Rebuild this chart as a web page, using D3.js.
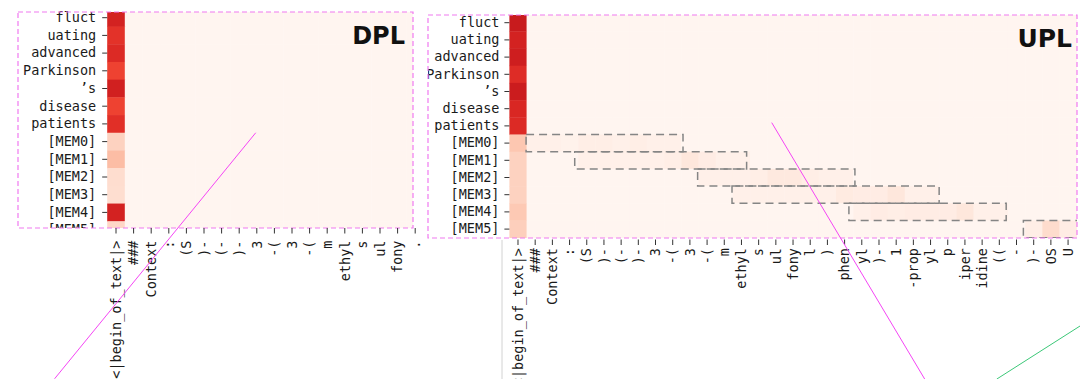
<!DOCTYPE html>
<html><head><meta charset="utf-8">
<script src="https://cdn.jsdelivr.net/npm/d3@7"></script>
<style>body{margin:0;background:#fff;} svg{display:block;}</style>
</head><body>
<script>
// ---------------- data ----------------
const rowLabels = ["fluct","uating","advanced","Parkinson","\u2019s","disease","patients",
  "[MEM0]","[MEM1]","[MEM2]","[MEM3]","[MEM4]","[MEM5]","[MEM6]"];

const dplColLabels = ["<|begin_of_text|>","###","Context",":","(S",")-","(-",")-","3","-(","3","-(",
  "m","ethyl","s","ul","fony","."];

const uplColLabels = ["<|begin_of_text|>","###","Context",":","(S",")-","(-",")-","3","-(","3","-(",
  "m","ethyl","s","ul","fony","l",")","phen","yl",")-","1","-prop","yl","p","iper","idine","((","-",")-","OS","U"];

// attention on first column (<|begin_of_text|>) per row
const dplFirstCol = [0.72,0.66,0.69,0.61,0.73,0.61,0.67,0.17,0.24,0.125,0.12,0.72,0.15];
const uplFirstCol = [0.76,0.72,0.74,0.68,0.75,0.70,0.69,0.21,0.17,0.17,0.17,0.20,0.18,0.18];

// sparse faint attention in UPL: [row, col, value]
const uplTints = [
  [7,1,0.03],[7,2,0.03],[7,3,0.02],[7,4,0.04],[7,5,0.04],[7,6,0.03],[7,7,0.04],[7,8,0.03],[7,9,0.03],
  [8,4,0.03],[8,5,0.03],[8,6,0.03],[8,7,0.03],[8,8,0.03],[8,9,0.04],[8,10,0.08],[8,11,0.05],[8,12,0.03],[8,13,0.03],
  [9,11,0.03],[9,12,0.03],[9,13,0.03],[9,14,0.04],[9,15,0.07],[9,16,0.07],[9,17,0.04],[9,18,0.03],[9,19,0.03],
  [10,13,0.03],[10,14,0.03],[10,15,0.03],[10,16,0.03],[10,17,0.03],[10,18,0.03],[10,19,0.06],[10,20,0.05],[10,21,0.05],[10,22,0.08],[10,23,0.03],[10,24,0.03],
  [11,20,0.03],[11,21,0.05],[11,22,0.04],[11,23,0.05],[11,24,0.05],[11,25,0.05],[11,26,0.08],[11,27,0.03],[11,28,0.03],
  [12,30,0.04],[12,31,0.13],[12,32,0.05]
];

// dashed span boxes in UPL: [row, fromCol, toCol] (column units, left edges)
const uplSpans = [[7,0.97,10.1],[8,3.8,13.8],[9,10.95,20.1],[10,12.95,25.0],[11,19.75,28.9],[12,29.9,33.5]];

const panelTitles = ["DPL","UPL"];

// overlay strokes in panel units [[col,row],[col,row]]
const dplGuide = [[8.44,7.0],[-2.99,20.9]];
const uplGuide = [[15.26,6.31],[24.16,21.22]];
const uplGreen = [[33.25,18.1],[28.35,21.22]];
const uplDivider = [[-0.43,13.13],[-0.43,21.3]];

// ---------------- layout ----------------
const W = 1080, H = 379;
const svg = d3.select("body").append("svg").attr("width", W).attr("height", H);
const defs = svg.append("defs");

const panels = [
  {id:"dpl", title:panelTitles[0], cols:dplColLabels, first:dplFirstCol, nRows:13,
   x0:107.2, step:17.6, y0:8.85, rstep:17.7,
   border:[18,12,413,228], axisY:228, tick:5.5, xPad:7, yPad:6,
   titleX:405, titleY:44.3, titleSize:24},
  {id:"upl", title:panelTitles[1], cols:uplColLabels, first:uplFirstCol, nRows:14,
   x0:509.4, step:17.19, y0:14.1, rstep:17.2,
   border:[428,15,1077,238], axisY:239.5, tick:5.5, xPad:3, yPad:5,
   titleX:1072, titleY:46.7, titleSize:25}
];

const tintMap = new Map(uplTints.map(d => [d[0]+"_"+d[1], d[2]]));
const color = d3.interpolateReds;
const font = "'DejaVu Sans Mono', monospace";
const fs = "13.5px";

panels.forEach((p, pi) => {
  const nC = p.cols.length;
  const x = d3.scaleBand().domain(d3.range(nC)).range([p.x0, p.x0 + nC*p.step]).padding(0);
  const y = d3.scaleBand().domain(d3.range(p.nRows)).range([p.y0, p.y0 + p.nRows*p.rstep]).padding(0);
  const xu = d3.scaleLinear().domain([0, nC]).range([p.x0, p.x0 + nC*p.step]);
  const yu = d3.scaleLinear().domain([0, p.nRows]).range([p.y0, p.y0 + p.nRows*p.rstep]);
  const [bx0, by0, bx1, by1] = p.border;

  defs.append("clipPath").attr("id", "clip-"+p.id)
    .append("rect").attr("x", bx0).attr("y", by0).attr("width", bx1-bx0).attr("height", by1-by0);
  defs.append("clipPath").attr("id", "clipl-"+p.id)
    .append("rect").attr("x", bx0).attr("y", 0).attr("width", bx1-bx0).attr("height", by1);

  const g = svg.append("g").attr("clip-path", `url(#clip-${p.id})`);
  const gl = svg.append("g").attr("clip-path", `url(#clipl-${p.id})`);

  // cells
  const cells = [];
  for (let r = 0; r < p.nRows; r++) for (let c = 0; c < nC; c++) {
    let v = c === 0 ? p.first[r] : (p.id === "upl" ? (tintMap.get(r+"_"+c) || 0) : 0);
    cells.push({r, c, v});
  }
  g.selectAll("rect.cell").data(cells).join("rect").attr("class","cell")
    .attr("x", d => x(d.c)).attr("y", d => y(d.r))
    .attr("width", x.bandwidth()+0.4).attr("height", y.bandwidth()+0.4)
    .attr("fill", d => color(d.v));

  // y axis
  const ya = gl.append("g").attr("transform", `translate(${p.x0},0)`)
    .call(d3.axisLeft(y).tickSize(5).tickPadding(p.yPad).tickFormat(i => rowLabels[i]));
  ya.select(".domain").remove();
  ya.selectAll("line").attr("stroke", "#333");
  ya.selectAll("text").style("font-family", font).style("font-size", fs).attr("fill", "#1a1a1a");

  // span boxes
  if (p.id === "upl") {
    g.selectAll("rect.span").data(uplSpans).join("rect").attr("class","span")
      .attr("x", d => xu(d[1])).attr("y", d => yu(d[0]))
      .attr("width", d => xu(d[2]) - xu(d[1])).attr("height", p.rstep)
      .attr("fill", "none").attr("stroke", "#858585").attr("stroke-width", 1.5)
      .attr("stroke-dasharray", "8,5");
  }

  // title
  svg.append("text").attr("x", p.titleX).attr("y", p.titleY).attr("text-anchor", "end")
    .style("font-family", "'DejaVu Sans', sans-serif").style("font-weight", "bold")
    .style("font-size", p.titleSize+"px").attr("fill", "#111").text(p.title);

  // border
  svg.append("rect").attr("x", bx0).attr("y", by0).attr("width", bx1-bx0).attr("height", by1-by0)
    .attr("fill", "none").attr("stroke", "#f07af0").attr("stroke-width", 1.2)
    .attr("stroke-dasharray", "5,3");

  // x axis
  const xa = svg.append("g").attr("transform", `translate(0,${p.axisY})`)
    .call(d3.axisBottom(x).tickSize(p.tick).tickFormat(i => p.cols[i]));
  xa.select(".domain").remove();
  xa.selectAll("line").attr("stroke", "#333");
  xa.selectAll("text")
    .attr("transform", "rotate(-90)")
    .attr("x", -(p.tick + p.xPad)).attr("y", 0).attr("dy", "0.35em")
    .style("text-anchor", "end")
    .style("font-family", font).style("font-size", fs).attr("fill", "#1a1a1a");

  // overlay strokes
  const line = d3.line().x(d => xu(d[0])).y(d => yu(d[1]));
  if (p.id === "dpl") {
    svg.append("path").attr("d", line(dplGuide)).attr("stroke", "#f545f5").attr("stroke-width", 1).attr("fill", "none");
  } else {
    svg.append("path").attr("d", line(uplDivider)).attr("stroke", "#d2d2d2").attr("stroke-width", 1).attr("fill", "none");
    svg.append("path").attr("d", line(uplGuide)).attr("stroke", "#f545f5").attr("stroke-width", 1).attr("fill", "none");
    svg.append("path").attr("d", line(uplGreen)).attr("stroke", "#3cc878").attr("stroke-width", 1).attr("fill", "none");
  }
});
</script>
</body></html>
